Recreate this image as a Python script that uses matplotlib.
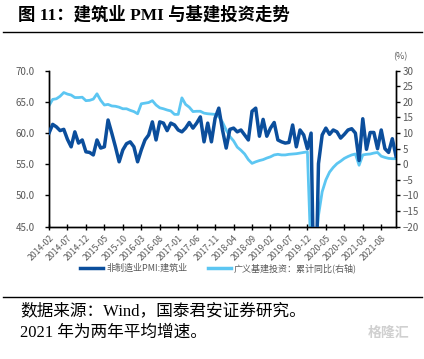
import numpy as np
import pandas as pd
import matplotlib
matplotlib.use("Agg")
import matplotlib.pyplot as plt
from matplotlib.lines import Line2D

plt.rcParams['font.family'] = ['Noto Sans CJK SC', 'DejaVu Sans']
plt.rcParams['axes.unicode_minus'] = True

# ---------------- data ----------------
months = list(pd.period_range('2014-02', '2021-12', freq='M').strftime('%Y-%m'))

pmi_construction = [
    60.0, 61.4, 61.0, 60.4, 60.6, 59.0, 57.8, 60.2, 58.4, 58.9,
    57.0, 56.9, 56.5, 58.9, 57.6, 57.8, 62.1, 60.0, 57.8, 55.4,
    57.3, 58.3, 58.6, 57.8, 55.4, 57.3, 58.9, 59.7, 61.8, 58.9,
    61.8, 61.6, 60.4, 61.6, 61.3, 60.5, 60.2, 60.8, 61.7, 60.8,
    61.6, 62.6, 58.6, 61.6, 58.6, 62.4, 64.0, 60.5, 57.6, 60.6,
    60.8, 60.2, 60.5, 59.7, 58.9, 63.5, 64.0, 59.5, 62.2, 59.5,
    60.8, 61.7, 58.9, 58.6, 58.4, 58.5, 61.3, 57.8, 60.5, 59.7,
    57.5, 60.0, 26.6, 55.1, 59.7, 60.8, 59.8, 60.5, 60.2, 59.2,
    59.8, 60.5, 60.7, 60.0, 55.6, 62.3, 57.4, 60.1, 60.1, 57.5,
    60.5, 57.5, 56.9, 59.1, 56.3,
]

infra_yoy = [
    18.8, 20.8, 21.0, 21.8, 23.0, 22.5, 22.2, 21.4, 21.4, 21.5,
    20.4, 20.5, 20.9, 22.6, 20.5, 19.0, 19.2, 18.7, 18.6, 18.3,
    17.8, 17.8, 17.3, 16.9, 16.2, 19.4, 19.6, 19.8, 20.4, 19.0,
    18.1, 17.8, 17.4, 17.1, 16.0, 16.0, 21.3, 19.2, 18.3, 16.9,
    17.0, 17.0, 16.4, 16.2, 16.1, 16.0, 15.3, 13.5, 11.0, 8.9,
    7.5, 5.5, 4.5, 3.3, 1.5, 0.3, 0.8, 1.2, 1.5, 2.0,
    2.4, 3.0, 3.2, 3.0, 3.0, 3.2, 3.3, 3.4, 3.6, 3.8,
    4.0, -30.3, -30.3, -16.4, -8.8, -5.0, -2.5, -1.0, 0.2, 1.0,
    1.9, 2.5, 3.0, 3.3, -0.3, 3.0, 3.2, 3.3, 3.6, 3.8,
    2.6, 2.2, 1.9, 1.8, 1.8,
]

tick_labels = ['2014-02', '2014-07', '2014-12', '2015-05', '2015-10', '2016-03',
               '2016-08', '2017-01', '2017-06', '2017-11', '2018-04', '2018-09',
               '2019-02', '2019-07', '2019-12', '2020-05', '2020-10', '2021-03',
               '2021-08']

left_ticks = [45.0, 50.0, 55.0, 60.0, 65.0, 70.0]
right_ticks = [-20, -15, -10, -5, 0, 5, 10, 15, 20, 25, 30]

label_pmi = '非制造业PMI:建筑业'
label_infra = '广义基建投资：累计同比(右轴)'
title = '图 11：建筑业 PMI 与基建投资走势'
source1 = '数据来源：Wind，国泰君安证券研究。'
source2 = '2021 年为两年平均增速。'

# ---------------- figure ----------------
W, H = 424, 359
fig = plt.figure(figsize=(W / 100, H / 100), dpi=100)

def fx(px):
    return px / W

def fy(py):
    return 1 - py / H

dark = '#0b4e9c'
light = '#5cc6f2'
grey = '#595959'

ax = fig.add_axes([fx(49), fy(226.7), fx(396) - fx(49), fy(70.7) - fy(226.7)])
ax2 = ax.twinx()

x = np.arange(len(months))
ax2.plot(x, infra_yoy, color=light, lw=2.0, solid_joinstyle='round', zorder=2)
ax.plot(x, pmi_construction, color=dark, lw=2.5, solid_joinstyle='round', zorder=3)
ax.set_zorder(ax2.get_zorder() + 1)
ax.patch.set_visible(False)

ax.set_xlim(0, len(months) - 1)
ax.set_ylim(45, 70)
ax2.set_ylim(-20, 30)

ax.set_yticks(left_ticks)
ax.set_yticklabels([f'{v:.1f}' for v in left_ticks])
ax2.set_yticks(right_ticks)
ax2.set_yticklabels([str(v).replace('-', '\u2212') for v in right_ticks])

pos = [months.index(t) for t in tick_labels]
ax.set_xticks(pos)
ax.set_xticklabels(tick_labels, rotation=45, ha='right', va='top',
                   rotation_mode='anchor')

for a in (ax, ax2):
    a.spines['top'].set_visible(False)
    for s in ('left', 'right', 'bottom'):
        a.spines[s].set_color('black')
        a.spines[s].set_linewidth(1.0)

ax.tick_params(axis='y', direction='out', length=3, width=1, colors='black',
               labelcolor=grey, labelsize=7, pad=7)
ax2.tick_params(axis='y', direction='out', length=3, width=1, colors='black',
                labelcolor=grey, labelsize=7, pad=1.5)
ax.tick_params(axis='x', direction='inout', length=4, width=1, colors='black',
               labelcolor=grey, labelsize=6.3, pad=3)

# (%) unit label
fig.text(fx(400), fy(57), '(%)', fontsize=6.5, color=grey, ha='center', va='center')

# title + rules
fig.text(fx(18), fy(15), title, fontsize=12.5, fontweight='bold',
         family=['Liberation Serif', 'Noto Sans CJK SC'], ha='left', va='center',
         color='black')
fig.add_artist(Line2D([fx(3), fx(422)], [fy(31.7), fy(31.7)], color='black', lw=1.0))
fig.add_artist(Line2D([fx(3), fx(422)], [fy(296.7), fy(296.7)], color='black', lw=1.0))

# legend
handles = [Line2D([], [], color=dark, lw=2.5), Line2D([], [], color=light, lw=2.5)]
fig.legend(handles, [label_pmi, label_infra], loc='center',
           bbox_to_anchor=(fx(218.5), fy(268)), ncol=2, frameon=False,
           fontsize=6.5, handlelength=2.6, handletextpad=0.3, columnspacing=2.3,
           labelcolor=grey, borderpad=0, borderaxespad=0)

# source notes
fig.text(fx(20), fy(311.7), source1, fontsize=12,
         family=['Liberation Serif', 'Noto Sans CJK SC'], ha='left', va='center')
fig.text(fx(20), fy(333), source2, fontsize=12,
         family=['Liberation Serif', 'Noto Sans CJK SC'], ha='left', va='center')
fig.text(fx(409), fy(333), '格隆汇', fontsize=10, color='#d0d0d0',
         ha='right', va='center', fontweight='bold')

fig.savefig('out.png', dpi=100)
